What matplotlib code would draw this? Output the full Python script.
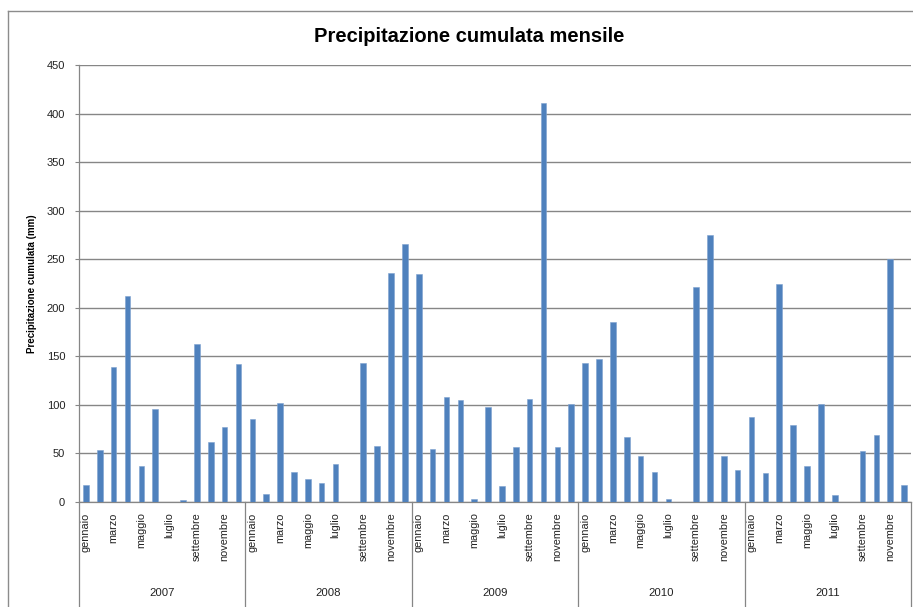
import numpy as np
import matplotlib
matplotlib.use("Agg")
import matplotlib.pyplot as plt
from matplotlib.lines import Line2D

# monthly cumulated rainfall (mm), Jan 2007 - Dec 2011
years = ["2007", "2008", "2009", "2010", "2011"]
month_labels = ["gennaio", "marzo", "maggio", "luglio", "settembre", "novembre"]

rain_2007 = [17, 54, 139, 212, 37, 96, 0, 2, 163, 62, 77, 142]
rain_2008 = [85, 8, 102, 31, 24, 20, 39, 0, 143, 58, 236, 266]
rain_2009 = [235, 55, 108, 105, 3, 98, 16, 57, 106, 411, 57, 101]
rain_2010 = [143, 147, 185, 67, 47, 31, 3, 0, 221, 275, 47, 33]
rain_2011 = [88, 30, 225, 79, 37, 101, 7, 0, 53, 69, 250, 17]

rain = np.array(rain_2007 + rain_2008 + rain_2009 + rain_2010 + rain_2011)
x = np.arange(len(rain))

#------------------------------------------------------------
plt.rcParams['font.family'] = ['Liberation Sans', 'DejaVu Sans']

W, H = 913, 607
fig = plt.figure(figsize=(W/100, H/100), dpi=100)

ax_l, ax_r, ax_t, ax_b = 79, 911, 65, 502
ax = fig.add_axes([ax_l/W, 1 - ax_b/H, (ax_r - ax_l)/W, (ax_b - ax_t)/H])

grey = '#868686'

ax.bar(x, rain, width=0.4, color='#4F81BD', edgecolor='#7EA2D0', linewidth=0.4, zorder=3)

ax.set_xlim(-0.5, len(rain) - 0.5)
ax.set_ylim(0, 450)
ax.set_yticks(np.arange(0, 451, 50))
ax.yaxis.grid(True, color=grey, linewidth=1.0, zorder=0)
ax.tick_params(axis='y', direction='out', length=3, width=0.8, color=grey,
               labelsize=8, pad=7, labelcolor='#222222')

# month name every other category, repeated per year
ticks = []
tick_labels = []
for i in range(len(years)):
    for j, name in enumerate(month_labels):
        ticks.append(12*i + 2*j)
        tick_labels.append(name)
ax.set_xticks(ticks)
ax.set_xticklabels(tick_labels, rotation=90, fontsize=7.8, va='top', ha='center', color='#222222')
ax.tick_params(axis='x', length=0, pad=7.5)

for side in ['top', 'right']:
    ax.spines[side].set_visible(False)
for side in ['left', 'bottom']:
    ax.spines[side].set_color(grey)
    ax.spines[side].set_linewidth(0.9)

# year groups below the month labels
trans = ax.get_xaxis_transform()
drop = (H - ax_b) / (ax_b - ax_t)
for i in range(len(years) + 1):
    ax.plot([12*i - 0.5, 12*i - 0.5], [0, -drop], color=grey, linewidth=0.9,
            transform=trans, clip_on=False)
for i, yr in enumerate(years):
    ax.text(12*i + 5.5, -(593 - ax_b)/(ax_b - ax_t), yr, transform=trans,
            ha='center', va='center', fontsize=8.2, color='#222222')

ax.set_ylabel('Precipitazione cumulata (mm)', fontsize=7, fontweight='bold')
ax.yaxis.set_label_coords(-(ax_l - 37)/(ax_r - ax_l), 0.5)

fig.text(469/W, 1 - 37/H, 'Precipitazione cumulata mensile', ha='center', va='center',
         fontsize=14.5, fontweight='bold')

# chart area frame
fig.add_artist(Line2D([8/W, 8/W], [0, 1 - 11/H], color='#8c8c8c', linewidth=1.0))
fig.add_artist(Line2D([8/W, 1], [1 - 11/H, 1 - 11/H], color='#8c8c8c', linewidth=1.0))

plt.savefig('out.png', dpi=100)
